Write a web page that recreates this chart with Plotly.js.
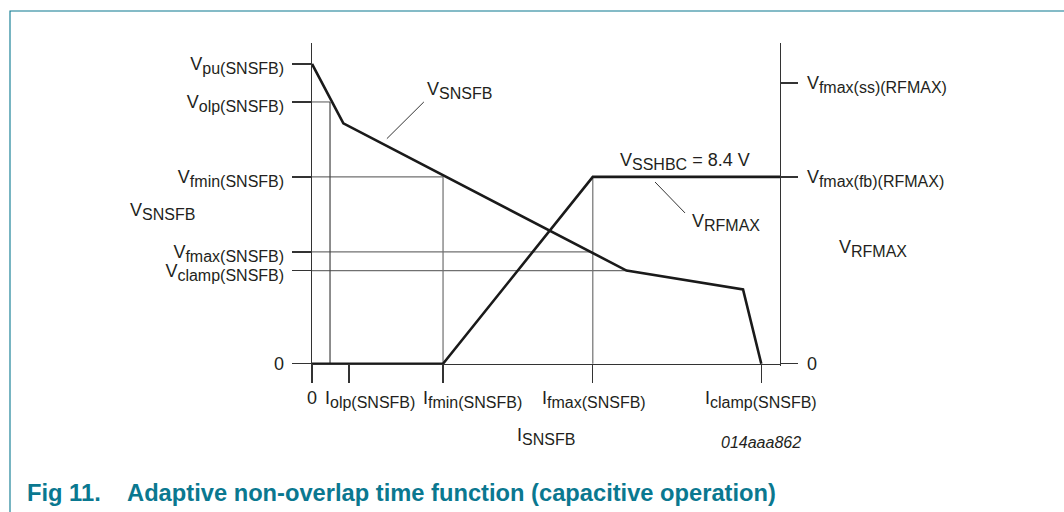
<!DOCTYPE html>
<html>
<head>
<meta charset="utf-8">
<script src="https://cdn.plot.ly/plotly-3.0.1.min.js"></script>
<style>
html,body{margin:0;padding:0;background:#ffffff;}
#chart{width:1064px;height:512px;}
</style>
</head>
<body>
<div id="chart"></div>
<script>
// ---------- data (schematic values) ----------
function lbl(main, sub) {
  return main + '<sub><span style="font-size:16px">' + sub + '</span></sub>';
}

// current axis (I_SNSFB), arbitrary units
const currentTickValues = [0, 7.9, 28.0, 60.0, 96.0];
const currentTickLabels = ['0', lbl('I', 'olp(SNSFB)'), lbl('I', 'fmin(SNSFB)'), lbl('I', 'fmax(SNSFB)'), lbl('I', 'clamp(SNSFB)')];

// left voltage axis (V_SNSFB)
const snsfbLevelValues = [0, 4.19, 5.03, 8.4, 11.77, 13.48];
const snsfbLevelLabels = ['0', lbl('V', 'clamp(SNSFB)'), lbl('V', 'fmax(SNSFB)'), lbl('V', 'fmin(SNSFB)'), lbl('V', 'olp(SNSFB)'), lbl('V', 'pu(SNSFB)')];

// right voltage axis (V_RFMAX)
const rfmaxLevelValues = [0, 8.4, 12.62];
const rfmaxLevelLabels = ['0', lbl('V', 'fmax(fb)(RFMAX)'), lbl('V', 'fmax(ss)(RFMAX)')];

// V_SNSFB curve
const snsfbCurrent = [0, 6.7, 67.2, 92.1, 96.0];
const snsfbVoltage = [13.48, 10.81, 4.19, 3.34, 0];

// V_RFMAX curve
const rfmaxCurrent = [0, 28.0, 60.0, 100];
const rfmaxVoltage = [0, 0, 8.4, 8.4];

// current where the V_olp level is reached
const iolpDropCurrent = 3.85;

// ---------- build ----------
const vClamp = snsfbLevelValues[1], vFmax = snsfbLevelValues[2], vFmin = snsfbLevelValues[3], vOlp = snsfbLevelValues[4];
const iFmin = currentTickValues[2], iFmax = currentTickValues[3];
const iClampKink = snsfbCurrent[2];
const vPlateau = rfmaxLevelValues[1];

const TXT = '#231f20';
const AX = '#333333';
const GUIDE = '#707070';
const CURVE = '#1a1a1a';
const TEAL = '#0a7890';
const FONT = 'Liberation Sans, Arial, Helvetica, sans-serif';

const guides = {
  type: 'scatter', mode: 'lines', hoverinfo: 'skip',
  x: [0, iFmin, iFmin, null, 0, iFmax, null, iFmax, iFmax, null, 0, iClampKink, null, 0, iolpDropCurrent],
  y: [vFmin, vFmin, 0, null, vFmax, vFmax, null, 0, vPlateau, null, vClamp, vClamp, null, vOlp, vOlp],
  line: {color: GUIDE, width: 1.2}
};
const olpDrop = {
  type: 'scatter', mode: 'lines', hoverinfo: 'skip',
  x: [iolpDropCurrent, iolpDropCurrent], y: [vOlp, 0],
  line: {color: '#444444', width: 1.2}
};
const snsfbTrace = {
  type: 'scatter', mode: 'lines', name: 'V_SNSFB',
  x: snsfbCurrent, y: snsfbVoltage,
  line: {color: CURVE, width: 2.6}
};
const rfmaxTrace = {
  type: 'scatter', mode: 'lines', name: 'V_RFMAX', yaxis: 'y2',
  x: rfmaxCurrent, y: rfmaxVoltage,
  line: {color: CURVE, width: 2.6}
};

const yRange = [-0.1, 14.42];

const xShifts = [0, 21, 29, 1, 0];
const annotations = currentTickValues.map((v, i) => ({
  x: v, xref: 'x', y: -0.061, yref: 'paper', xanchor: 'center', yanchor: 'top',
  xshift: xShifts[i], text: currentTickLabels[i], showarrow: false,
  font: {family: FONT, size: 18, color: TXT}
}));

annotations.push(
  {x: 0.5, xref: 'paper', y: -0.2198, yref: 'paper', xanchor: 'center', yanchor: 'middle',
   text: lbl('I', 'SNSFB'), showarrow: false, font: {family: FONT, size: 18, color: TXT}},
  {x: -0.3932, xref: 'paper', y: 0.4768, yref: 'paper', xanchor: 'left', yanchor: 'middle',
   text: lbl('V', 'SNSFB'), showarrow: false, font: {family: FONT, size: 18, color: TXT}},
  {x: 1.1212, xref: 'paper', y: 0.3653, yref: 'paper', xanchor: 'left', yanchor: 'middle',
   text: lbl('V', 'RFMAX'), showarrow: false, font: {family: FONT, size: 18, color: TXT}},
  {x: 24.15, xref: 'x', y: 12.29, yref: 'y', xanchor: 'left', yanchor: 'middle',
   text: lbl('V', 'SNSFB'), showarrow: false, font: {family: FONT, size: 18, color: TXT}},
  {x: 65.45, xref: 'x', y: 9.10, yref: 'y', xanchor: 'left', yanchor: 'middle',
   text: lbl('V', 'SSHBC') + ' = 8.4 V', showarrow: false, font: {family: FONT, size: 18, color: TXT}},
  {x: 80.77, xref: 'x', y: 6.33, yref: 'y', xanchor: 'left', yanchor: 'middle',
   text: lbl('V', 'RFMAX'), showarrow: false, font: {family: FONT, size: 18, color: TXT}},
  {x: 0.8697, xref: 'paper', y: -0.2353, yref: 'paper', xanchor: 'left', yanchor: 'middle',
   text: '<i>014aaa862</i>', showarrow: false, font: {family: FONT, size: 16, color: TXT}},
  {x: -0.6135, xref: 'paper', y: -0.392, yref: 'paper', xanchor: 'left', yanchor: 'middle',
   text: '<b>Fig 11.\u00a0\u00a0\u00a0\u00a0Adaptive non-overlap time function (capacitive operation)</b>',
   showarrow: false, font: {family: FONT, size: 23.7, color: TEAL}}
);

const shapes = [
  {type: 'rect', xref: 'paper', yref: 'paper', x0: -0.6453, x1: 2, y0: -2, y1: 1.0991,
   line: {color: TEAL, width: 1.1}, fillcolor: 'rgba(0,0,0,0)', layer: 'below'},
  {type: 'line', xref: 'x', yref: 'y', x0: 23.9, y0: 11.77, x1: 16.0, y1: 10.12,
   line: {color: '#333333', width: 1}},
  {type: 'line', xref: 'x', yref: 'y', x0: 73.3, y0: 8.17, x1: 79.7, y1: 6.78,
   line: {color: '#333333', width: 1}}
];

const axisCommon = {
  showgrid: false, zeroline: false, showline: true,
  linecolor: AX, linewidth: 1.3, ticks: 'outside', tickwidth: 1.3, tickcolor: AX,
  fixedrange: true
};

const layout = {
  width: 1064, height: 512,
  margin: {l: 312, r: 284, t: 43, b: 146, pad: 0},
  paper_bgcolor: '#ffffff', plot_bgcolor: 'rgba(0,0,0,0)',
  showlegend: false,
  font: {family: FONT, size: 18, color: TXT},
  xaxis: Object.assign({}, axisCommon, {
    range: [0, 100], anchor: 'free', position: 0.1 / 14.52,
    ticklen: 18, tickvals: currentTickValues, showticklabels: false
  }),
  yaxis: Object.assign({}, axisCommon, {
    range: yRange, anchor: 'x', side: 'left',
    ticklen: 19, tickvals: snsfbLevelValues, ticktext: snsfbLevelLabels,
    ticklabelstandoff: 4, tickfont: {family: FONT, size: 18, color: TXT}
  }),
  yaxis2: Object.assign({}, axisCommon, {
    range: yRange, anchor: 'x', side: 'right', overlaying: 'y',
    ticklen: 17, tickvals: rfmaxLevelValues, ticktext: rfmaxLevelLabels,
    ticklabelstandoff: 5, tickfont: {family: FONT, size: 18, color: TXT}
  }),
  annotations: annotations,
  shapes: shapes
};

Plotly.newPlot('chart', [guides, olpDrop, snsfbTrace, rfmaxTrace], layout, {displayModeBar: false, staticPlot: true});
</script>
</body>
</html>
